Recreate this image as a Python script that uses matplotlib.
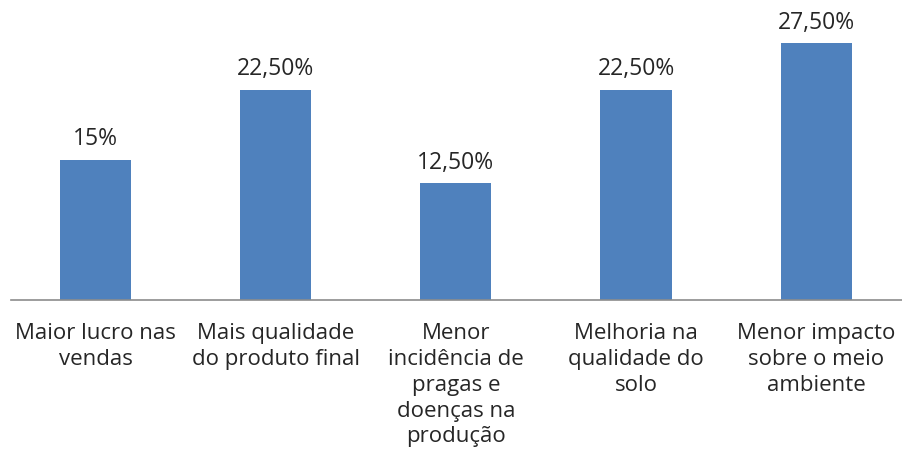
import matplotlib
matplotlib.use('Agg')
import matplotlib.pyplot as plt

# Dados
categorias = ["Maior lucro nas\nvendas", "Mais qualidade\ndo produto final",
              "Menor\nincidência de\npragas e\ndoenças na\nprodução",
              "Melhoria na\nqualidade do\nsolo", "Menor impacto\nsobre o meio\nambiente"]
valores = [15, 22.5, 12.5, 22.5, 27.5]
rotulos = ["15%", "22,50%", "12,50%", "22,50%", "27,50%"]

plt.rcParams['font.family'] = ['Open Sans', 'DejaVu Sans']

fig = plt.figure(figsize=(9.02, 4.59), dpi=100)
ax = fig.add_axes([11 / 902, 159.5 / 459, 891 / 902, 299.5 / 459])

x = range(len(valores))
bars = ax.bar(x, valores, width=0.395, color="#4F81BD")
for b, r in zip(bars, rotulos):
    ax.annotate(r, (b.get_x() + b.get_width() / 2, b.get_height()),
                xytext=(0, 6), textcoords="offset points",
                ha="center", va="bottom", fontsize=16.5, color="#262626")

ax.set_xlim(-0.469, 4.476)
ax.set_ylim(0, 32.1)
ax.set_xticks(list(x))
ax.set_xticklabels(categorias, fontsize=16, color="#262626", linespacing=1.3)
ax.tick_params(axis="x", length=0, pad=17)
ax.set_yticks([])
for s in ["top", "right", "left"]:
    ax.spines[s].set_visible(False)
ax.spines["bottom"].set_color("#8c8c8c")
ax.spines["bottom"].set_linewidth(1.2)

fig.savefig("out.png", dpi=100)
